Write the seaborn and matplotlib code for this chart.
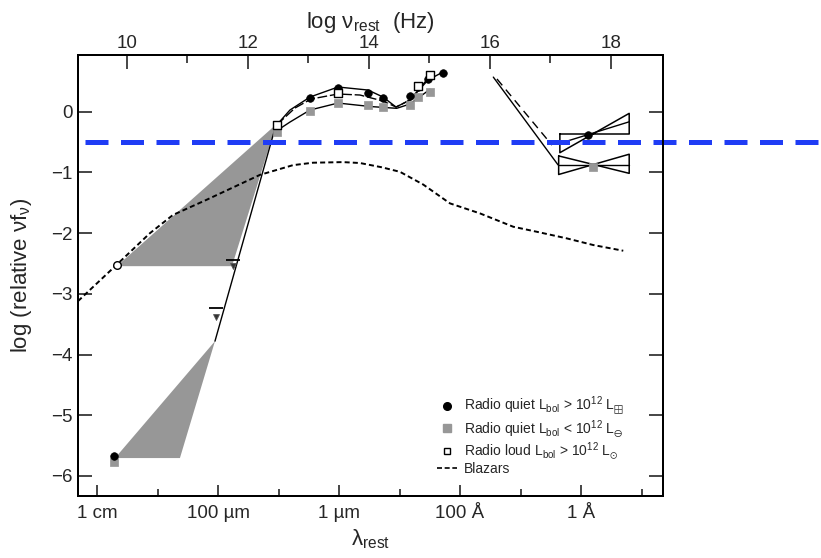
import numpy as np
import pandas as pd
import matplotlib
matplotlib.use("Agg")
import matplotlib.pyplot as plt
import seaborn as sns
from matplotlib.lines import Line2D

# ---------------- data: x = log nu_rest [Hz], y = log relative nu f_nu ----------------
blazar_x = [9.195, 9.835, 10.385, 10.765, 11.322, 12.203, 12.749, 13.079, 13.575, 13.856,
            14.215, 14.517, 14.902, 15.344, 15.840, 16.390, 16.777, 17.273, 17.712, 18.208]
blazar_y = [-3.12, -2.52, -2.00, -1.70, -1.45, -1.04, -0.88, -0.84, -0.83, -0.845,
            -0.915, -0.99, -1.20, -1.51, -1.675, -1.895, -1.977, -2.086, -2.196, -2.29]

# mean SED curves (IR - optical - UV)
rq_hi_x = [12.479, 12.699, 13.030, 13.493, 13.989, 14.237, 14.452, 14.683, 14.980, 15.228]
rq_hi_y = [-0.219, 0.028, 0.242, 0.407, 0.357, 0.242, 0.077, 0.193, 0.522, 0.654]
rl_x = [12.479, 12.782, 13.047, 13.493, 13.856, 14.237, 14.452, 14.683, 15.013]
rl_y = [-0.219, 0.061, 0.209, 0.292, 0.275, 0.176, 0.077, 0.193, 0.588]
rq_lo_x = [12.501, 12.699, 13.030, 13.493, 14.022, 14.463, 14.683, 15.013]
rq_lo_y = [-0.300, -0.170, 0.028, 0.143, 0.086, 0.056, 0.127, 0.369]

# data points
rq_hi_pts_x = [9.795, 13.030, 13.498, 13.993, 14.241, 14.683, 14.820, 14.985, 15.233, 17.625]
rq_hi_pts_y = [-5.672, 0.221, 0.386, 0.303, 0.221, 0.259, 0.412, 0.534, 0.643, -0.384]
rq_lo_pts_x = [9.795, 12.479, 13.030, 13.498, 13.993, 14.241, 14.683, 14.815, 15.013, 17.712]
rq_lo_pts_y = [-5.766, -0.329, 0.016, 0.138, 0.110, 0.082, 0.110, 0.242, 0.329, -0.906]
rl_pts_x = [12.479, 13.498, 14.815, 15.013]
rl_pts_y = [-0.219, 0.303, 0.424, 0.605]
rl_radio_x = [9.835]
rl_radio_y = [-2.525]

# far-IR upper limits (bar + arrow head)
ul_x = [11.484, 11.762]
ul_bar_y = [-3.24, -2.443]
ul_tri_y = [-3.38, -2.54]

# shaded radio-to-IR ranges
shade_hi_x = [9.836, 11.74, 12.47]
shade_hi_y = [-2.544, -2.544, -0.21]
shade_lo_x = [9.807, 10.88, 11.459]
shade_lo_y = [-5.705, -5.705, -3.78]
steep_x = [12.47, 11.459]
steep_y = [-0.21, -3.78]

# UV -> X-ray connections
uvx_solid_x = [16.06, 17.13]
uvx_solid_y = [0.57, -0.876]
uvx_dash_x = [16.12, 17.03]
uvx_dash_y = [0.54, -0.55]

# X-ray bowties
bt_hi_x = [17.16, 17.16, 18.306, 18.306, 17.16]
bt_hi_y = [-0.367, -0.675, -0.027, -0.367, -0.367]
bt_hi_mid_x = [17.16, 18.306]
bt_hi_mid_y = [-0.521, -0.166]
bt_lo_x = [17.14, 18.306, 18.306, 17.14, 17.14]
bt_lo_y = [-0.728, -1.015, -0.70, -1.034, -0.728]
bt_lo_mid_x = [17.14, 18.306]
bt_lo_mid_y = [-0.876, -0.876]

# reference level
ref_y = -0.5
ref_x = [9.31, 21.5]

# axes ticks
nu_major = [10, 12, 14, 16, 18]
nu_minor = [11, 13, 15, 17]
lam_major = [9.51, 11.51, 13.51, 15.51, 17.51]
lam_minor = [10.51, 12.51, 14.51, 16.51, 18.51]
lam_labels = ["1 cm", "100 µm", "1 µm", "100 Å", "1 Å"]
y_ticks = [-6, -5, -4, -3, -2, -1, 0]

legend_labels = [
    r"Radio quiet L$_{\mathregular{bol}}$ > 10$^{\mathregular{12}}$ L$_{\boxplus}$",
    r"Radio quiet L$_{\mathregular{bol}}$ < 10$^{\mathregular{12}}$ L$_{\ominus}$",
    r"Radio loud L$_{\mathregular{bol}}$ > 10$^{\mathregular{12}}$ L$_{\odot}$",
    "Blazars",
]

# ---------------- style ----------------
sns.set_style("ticks")
plt.rcParams.update({
    "font.family": ["Liberation Sans", "DejaVu Sans"],
    "mathtext.fontset": "custom",
    "mathtext.rm": "Liberation Sans",
    "mathtext.it": "Liberation Sans:italic",
    "mathtext.bf": "Liberation Sans:bold",
    "mathtext.fallback": "stix",
    "axes.linewidth": 1.4,
    "axes.edgecolor": "black",
})

GRAY = "#979797"
BLUE = "#1f3cf5"

fig = plt.figure(figsize=(8.21, 5.58), dpi=100)
ax = fig.add_axes([0.0950, 0.1111, 0.7125, 0.7903])

# shaded regions
ax.fill(shade_hi_x, shade_hi_y, color=GRAY, lw=0, zorder=1)
ax.fill(shade_lo_x, shade_lo_y, color=GRAY, lw=0, zorder=1)

line_kw = dict(ax=ax, sort=False, estimator=None, legend=False, color="black")
sns.lineplot(x=blazar_x, y=blazar_y, lw=1.4, linestyle=(0, (2.6, 1.6)), zorder=2, **line_kw)
sns.lineplot(x=steep_x, y=steep_y, lw=1.0, zorder=2, **line_kw)
sns.lineplot(x=rq_hi_x, y=rq_hi_y, lw=1.0, zorder=2, **line_kw)
sns.lineplot(x=rl_x, y=rl_y, lw=1.0, linestyle=(0, (7, 2)), zorder=2, **line_kw)
sns.lineplot(x=rq_lo_x, y=rq_lo_y, lw=1.0, zorder=2, **line_kw)
sns.lineplot(x=uvx_solid_x, y=uvx_solid_y, lw=1.0, zorder=2, **line_kw)
sns.lineplot(x=uvx_dash_x, y=uvx_dash_y, lw=1.0, linestyle=(0, (6, 4)), zorder=2, **line_kw)
sns.lineplot(x=bt_hi_x, y=bt_hi_y, lw=1.1, zorder=2, **line_kw)
sns.lineplot(x=bt_hi_mid_x, y=bt_hi_mid_y, lw=1.0, zorder=2, **line_kw)
sns.lineplot(x=bt_lo_x, y=bt_lo_y, lw=1.1, zorder=2, **line_kw)
sns.lineplot(x=bt_lo_mid_x, y=bt_lo_mid_y, lw=1.0, zorder=2, **line_kw)

# markers
sns.scatterplot(x=rq_lo_pts_x, y=rq_lo_pts_y, marker="s", s=30, color=GRAY,
                edgecolor=GRAY, linewidth=0.5, ax=ax, zorder=3, legend=False)
sns.scatterplot(x=rq_hi_pts_x, y=rq_hi_pts_y, marker="o", s=30, color="black",
                edgecolor="black", linewidth=0.5, ax=ax, zorder=4, legend=False)
sns.scatterplot(x=rl_pts_x, y=rl_pts_y, marker="s", s=26, color="white",
                edgecolor="black", linewidth=1.0, ax=ax, zorder=5, legend=False)
sns.scatterplot(x=rl_radio_x, y=rl_radio_y, marker="o", s=30, color="white",
                edgecolor="black", linewidth=1.0, ax=ax, zorder=5, legend=False)
sns.scatterplot(x=ul_x, y=ul_bar_y, marker="_", s=110, color="black",
                edgecolor="black", linewidth=1.3, ax=ax, zorder=5, legend=False)
sns.scatterplot(x=ul_x, y=ul_tri_y, marker="v", s=18, color="#333333",
                edgecolor="#555555", linewidth=0.6, ax=ax, zorder=5, legend=False)

# blue reference line (runs past the right edge of the frame)
sns.lineplot(x=ref_x, y=[ref_y, ref_y], lw=3.6, color=BLUE, linestyle=(0, (4.6, 2.5)),
             ax=ax, sort=False, estimator=None, legend=False, zorder=6, clip_on=False)

# axes limits and ticks
XLIM = (9.195, 18.864)
YLIM = (-6.33, 0.934)
ax.set_xlim(*XLIM)
ax.set_ylim(*YLIM)
ax.set_xticks(lam_major)
ax.set_xticklabels(lam_labels)
ax.set_xticks(lam_minor, minor=True)
ax.set_yticks(y_ticks)
ax.tick_params(axis="x", which="major", direction="in", length=8, width=1.2,
               labelsize=13.5, pad=6.5, top=False)
ax.tick_params(axis="x", which="minor", direction="in", length=5, width=1.2, top=False)
ax.tick_params(axis="y", which="major", direction="in", length=10, width=1.2,
               labelsize=13.5, pad=4, left=True, right=True, labelright=False)
ax.set_ylabel("log (relative νf$_{\\mathregular{ν}}$)", fontsize=16)
ax.yaxis.set_label_coords(-0.076, 0.5)
ax.set_xlabel("λ$_{\\mathregular{rest}}$", fontsize=16)
ax.xaxis.set_label_coords(0.5, -0.072)

ax2 = ax.twiny()
ax2.set_xlim(*XLIM)
ax2.set_xticks(nu_major)
ax2.set_xticks(nu_minor, minor=True)
ax2.tick_params(axis="x", which="major", direction="in", length=10, width=1.2,
                labelsize=13.5, pad=2)
ax2.tick_params(axis="x", which="minor", direction="in", length=6, width=1.2)
ax2.set_xlabel("log ν$_{\\mathregular{rest}}$  (Hz)", fontsize=16)
ax2.xaxis.set_label_coords(0.5, 1.062)
for sp in ax2.spines.values():
    sp.set_linewidth(1.4)

# legend
handles = [
    Line2D([], [], marker="o", ls="none", color="black", ms=5.5),
    Line2D([], [], marker="s", ls="none", color=GRAY, mec=GRAY, ms=5.5),
    Line2D([], [], marker="s", ls="none", mfc="white", mec="black", mew=1.0, ms=5),
    Line2D([], [], color="black", lw=1.2, ls=(0, (3, 1.6))),
]
ax.legend(handles, legend_labels, loc="upper left", bbox_to_anchor=(0.6137, 0.229),
          frameon=False, fontsize=10, handlelength=1.45, handletextpad=0.5,
          labelspacing=0.0, borderpad=0, borderaxespad=0)

fig.savefig("out.png", dpi=100)
